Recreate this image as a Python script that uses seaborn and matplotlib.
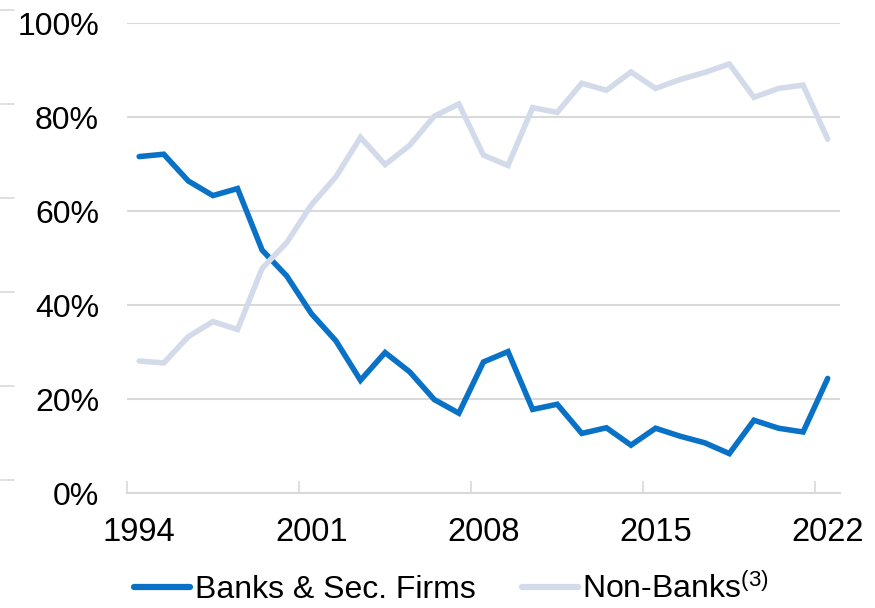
import matplotlib
matplotlib.use("Agg")
import matplotlib.pyplot as plt
import seaborn as sns
import pandas as pd
from matplotlib.lines import Line2D

years = list(range(1994, 2023))
banks = [71.6, 72.1, 66.4, 63.3, 64.8, 51.7, 46.2, 38.2, 32.4, 24.0,
         29.9, 25.8, 19.9, 17.0, 27.9, 30.1, 17.8, 18.9, 12.7, 13.9,
         10.2, 13.8, 12.1, 10.7, 8.4, 15.5, 13.8, 13.0, 24.4]
non_banks = [28.1, 27.7, 33.3, 36.5, 34.8, 47.8, 53.3, 61.3, 67.3, 75.7,
             69.9, 74.0, 80.2, 82.8, 71.9, 69.7, 82.0, 81.0, 87.2, 85.7,
             89.6, 86.1, 88.0, 89.5, 91.3, 84.2, 86.1, 86.8, 75.3]
tick_years = [1994, 2001, 2008, 2015, 2022]
y_ticks = [0, 20, 40, 60, 80, 100]
series_names = ["Banks & Sec. Firms", "Non-Banks$^{\\mathrm{(3)}}$"]
colors = ["#0A72C6", "#D3DBEA"]

df = pd.DataFrame({"year": years * 2,
                   "value": banks + non_banks,
                   "series": [series_names[0]] * len(years) + [series_names[1]] * len(years)})

sns.set_theme(style="white")
plt.rcParams["font.family"] = ["Liberation Sans", "DejaVu Sans"]
plt.rcParams["mathtext.fontset"] = "custom"
plt.rcParams["mathtext.rm"] = "Liberation Sans"
plt.rcParams["mathtext.it"] = "Liberation Sans"
plt.rcParams["text.color"] = "black"

fig = plt.figure(figsize=(8.75, 6.08), dpi=100)
ax = fig.add_axes([0.145, 0.189, 0.815, 0.773])

sns.lineplot(data=df, x="year", y="value", hue="series", palette=colors,
             linewidth=4.0, ax=ax, legend=False, sort=False)
for l in ax.get_lines():
    l.set_solid_capstyle("round")
    l.set_solid_joinstyle("miter")

ax.set_xlim(1993.5, 2022.5)
ax.set_ylim(0, 100)
ax.set_yticks(y_ticks)
ax.set_yticklabels([f"{v}%" for v in y_ticks])
ax.set_xticks(tick_years)
ax.set_xticklabels([str(y) for y in tick_years])
ax.set_xticks([y - 0.5 for y in tick_years], minor=True)
ax.tick_params(axis="x", which="major", length=0, pad=17, labelsize=23.5, labelcolor="black")
ax.tick_params(axis="x", which="minor", length=9, width=1.2, color="#D9D9D9", direction="in", bottom=True)
ax.tick_params(axis="y", length=0, pad=20, labelsize=23, labelcolor="black")
ax.set_xlabel("")
ax.set_ylabel("")

ax.grid(axis="y", color="#D9D9D9", linewidth=1.5)
ax.set_axisbelow(True)
for s in ["left", "right", "top"]:
    ax.spines[s].set_visible(False)
ax.spines["bottom"].set_color("#D9D9D9")
ax.spines["bottom"].set_linewidth(1.5)

# faint marks at the far left edge
for v in y_ticks:
    yf = 1 - (480 - v * 4.7) / 608
    fig.add_artist(Line2D([0.0, 0.016], [yf, yf], color="#D9D9D9", linewidth=1.2,
                          transform=fig.transFigure))

handles = [Line2D([0], [0], color=c, linewidth=4.5, solid_capstyle="round") for c in colors]
leg = fig.legend(handles, series_names, loc="lower center", bbox_to_anchor=(0.516, -0.042),
                 ncol=2, frameon=False, fontsize=23, handlelength=1.75, handletextpad=0.15,
                 columnspacing=1.45)
for t in leg.get_texts():
    t.set_color("black")

fig.savefig("out.png", dpi=100)
